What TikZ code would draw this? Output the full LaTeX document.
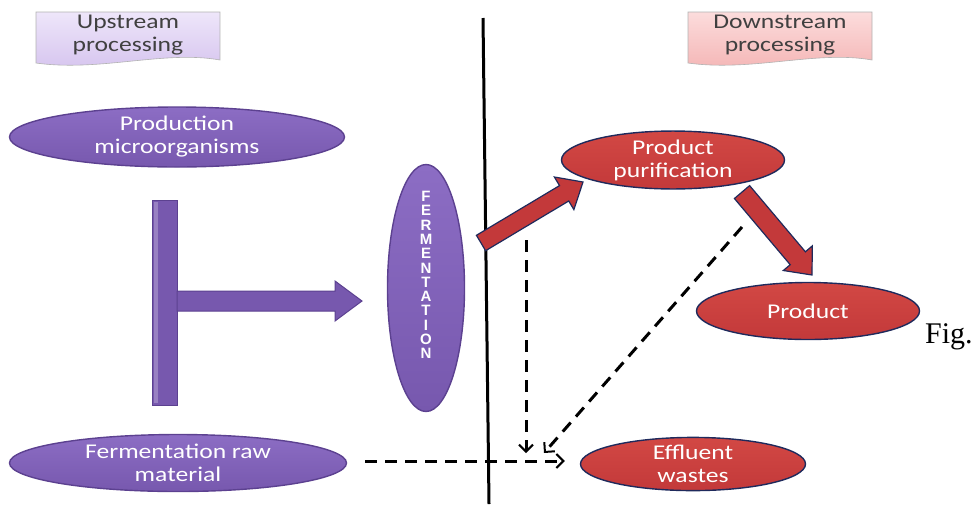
\documentclass[tikz,border=0pt]{standalone}
\usepackage{fontspec}
\setmainfont{Carlito}[FakeStretch=1.22]
\newfontfamily\lettersfont{Liberation Sans}
\newfontfamily\figfont{Liberation Serif}
\usetikzlibrary{shapes.geometric,arrows.meta}
\definecolor{purp}{HTML}{7758AE}
\definecolor{purplight}{HTML}{8C6DC4}
\definecolor{purpdark}{HTML}{5C4190}
\definecolor{redf}{HTML}{C3393A}
\definecolor{redlight}{HTML}{D24844}
\definecolor{navy}{HTML}{1F2A5C}
\definecolor{lavtop}{HTML}{EEE6FA}
\definecolor{lavbot}{HTML}{D5C3EE}
\definecolor{pinktop}{HTML}{FCDCDC}
\definecolor{pinkbot}{HTML}{F4B4B4}
\begin{document}
\begin{tikzpicture}[x=1pt,y=-1pt,
  txt/.style={font=\fontsize{21}{23}\selectfont, align=center},
  pell/.style={ellipse, draw=purpdark, line width=1.4pt, top color=purplight, bottom color=purp, inner sep=0pt, text=white, txt},
  rell/.style={ellipse, draw=navy, line width=1.4pt, top color=redlight, bottom color=redf, inner sep=0pt, text=white, txt},
  parrow/.style={fill=purp, draw=purpdark, line width=1pt},
  rarrow/.style={fill=redf, draw=navy, line width=1.2pt, line join=miter},
  dashline/.style={black, line width=3pt, dash pattern=on 12pt off 8pt, -{Straight Barb[length=7pt,width=14pt,line width=2pt]}},
  labelbox/.style={draw=gray!60, line width=0.6pt}
]
\useasboundingbox (0,0) rectangle (973,504);

% heading boxes
\draw[labelbox, top color=lavtop, bottom color=lavbot] (36,12) -- (220,12) -- (220,60) .. controls (165,50) and (100,72) .. (36,63) -- cycle;
\node[txt, text=black!75] (up) at (128,35) {Upstream\\processing};
\draw[labelbox, top color=pinktop, bottom color=pinkbot] (688,12) -- (872,12) -- (872,60) .. controls (817,50) and (752,72) .. (688,63) -- cycle;
\node[txt, text=black!75] (down) at (780,35) {Downstream\\processing};

% divider
\coordinate (ltop) at (483,18);
\coordinate (lbot) at (489,504);
\draw[line width=3pt] (ltop) -- (lbot);

% ellipses
\node[pell, minimum width=335pt, minimum height=60pt] (prod) at (177,137) {Production\\microorganisms};
\node[pell, minimum width=337pt, minimum height=57pt] (raw) at (178,463) {Fermentation raw\\material};
\node[pell, minimum width=77pt, minimum height=247pt] (ferm) at (426,288) {};
\node[text=white, align=center, inner sep=0pt, font=\lettersfont\bfseries\fontsize{15}{14.3}\selectfont] (fermtext) at (426,275)
  {F\\E\\R\\M\\E\\N\\T\\A\\T\\I\\O\\N};
\node[rell, minimum width=223pt, minimum height=55pt] (pur) at (673,160) {Product\\purification};
\node[rell, minimum width=223pt, minimum height=57pt] (product) at (808,311) {Product};
\node[rell, minimum width=225pt, minimum height=44pt] (eff) at (693,464) {Effluent\\wastes};

% purple T arrow
\draw[parrow] (152,200) rectangle (177,405);
\draw[parrow] (177,291) -- (335,291) -- (335,281) -- (362,301) -- (335,321) -- (335,311) -- (177,311) -- cycle;
\fill[white, opacity=0.25] (154,202) rectangle (158,403);

% red block arrows
\draw[rarrow] (485.6,250.7) -- (568.7,201.0) -- (573.9,209.6) -- (583,182) -- (554.4,177.0) -- (559.5,185.6) -- (476.4,235.3) -- cycle;
\draw[rarrow] (749.6,185.6) -- (805.4,251.8) -- (812.3,245.9) -- (812,275) -- (783.3,270.5) -- (790.2,264.7) -- (734.4,198.5) -- cycle;

% dashed arrows
\coordinate (vstart) at (526,240);
\coordinate (vend) at (526,453);
\coordinate (dstart) at (742,227);
\coordinate (dend) at (544,453);
\draw[dashline] ([xshift=18pt,yshift=2pt]raw.east) -- ([xshift=-15pt,yshift=3pt]eff.west);
\draw[dashline] (vstart) -- (vend);
\draw[dashline] (dstart) -- (dend);

% Fig.
\node[font=\figfont\fontsize{30}{32}\selectfont, anchor=base west, inner sep=0pt] (fig) at (925,343) {Fig.};
\end{tikzpicture}
\end{document}
